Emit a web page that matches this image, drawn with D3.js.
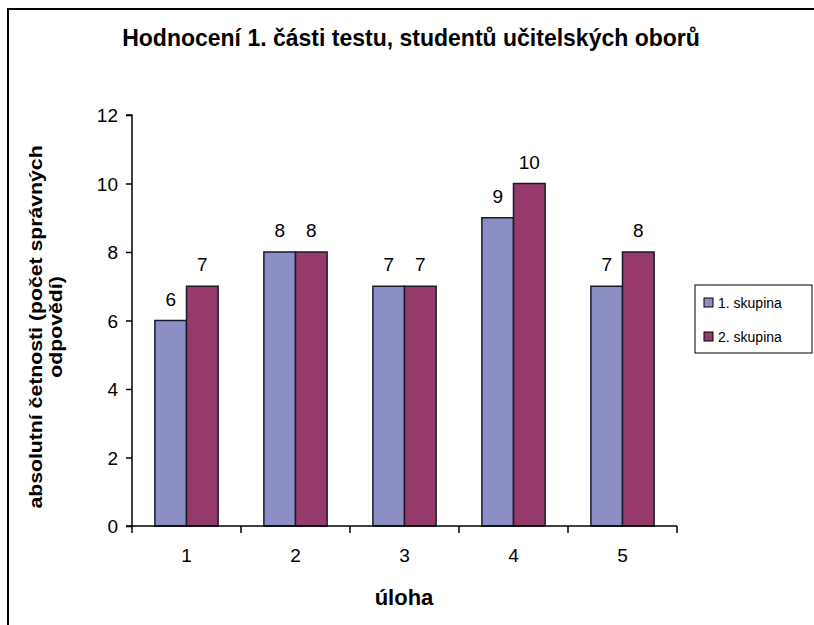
<!DOCTYPE html>
<html>
<head>
<meta charset="utf-8">
<script src="https://cdn.jsdelivr.net/npm/d3@7"></script>
<style>
  body { margin: 0; background: #fff; }
  text { font-family: "Liberation Sans", Arial, sans-serif; fill: #000; }
</style>
</head>
<body>
<div id="chart"></div>
<script>
// data
var categories = ["1", "2", "3", "4", "5"];
var seriesNames = ["1. skupina", "2. skupina"];
var group1 = [6, 8, 7, 9, 7];
var group2 = [7, 8, 7, 10, 8];
var yTicks = [0, 2, 4, 6, 8, 10, 12];

var colors = ["#8c8fc6", "#953a6a"];

var width = 814,
    height = 625;

var margin = {left: 132, right: 137, top: 115, bottom: 99};

var svg = d3.select("#chart")
    .append("svg")
    .attr("width", width)
    .attr("height", height);

// outer chart border (runs off right and bottom)
svg.append("rect")
    .attr("x", 8)
    .attr("y", 9)
    .attr("width", 830)
    .attr("height", 640)
    .style("fill", "none")
    .style("stroke", "#000")
    .style("stroke-width", 2);

var x = d3.scaleBand()
    .domain(categories)
    .range([margin.left, width - margin.right])
    .paddingInner(0.42)
    .paddingOuter(0.21);

var xSub = d3.scaleBand()
    .domain([0, 1])
    .range([0, x.bandwidth()]);

var y = d3.scaleLinear()
    .domain([0, 12])
    .range([height - margin.bottom, margin.top]);

var rows = categories.map(function(c, i) {
    return {cat: c, vals: [group1[i], group2[i]]};
});

// bars
var groups = svg.append("g").selectAll("g")
    .data(rows)
    .enter()
    .append("g")
    .attr("transform", function(d){ return "translate(" + x(d.cat) + ",0)"; });

groups.selectAll("rect")
    .data(function(d){ return d.vals.map(function(v, j){ return {v: v, j: j}; }); })
    .enter()
    .append("rect")
    .attr("x", function(d){ return xSub(d.j); })
    .attr("y", function(d){ return y(d.v); })
    .attr("width", xSub.bandwidth())
    .attr("height", function(d){ return y(0) - y(d.v); })
    .style("fill", function(d){ return colors[d.j]; })
    .style("stroke", "#1a1a2a")
    .style("stroke-width", 1.5);

groups.selectAll("text")
    .data(function(d){ return d.vals.map(function(v, j){ return {v: v, j: j}; }); })
    .enter()
    .append("text")
    .attr("x", function(d){ return xSub(d.j) + xSub.bandwidth() / 2; })
    .attr("y", function(d){ return y(d.v) - 15; })
    .attr("text-anchor", "middle")
    .style("font-size", "19px")
    .text(function(d){ return d.v; });

// axes
var yAxis = svg.append("g")
    .attr("transform", "translate(" + margin.left + ",0)")
    .call(d3.axisLeft(y).tickValues(yTicks).tickSize(6).tickPadding(8));

var xAxis = svg.append("g")
    .attr("transform", "translate(0," + y(0) + ")")
    .call(d3.axisBottom(x).tickSize(0).tickPadding(23));

[yAxis, xAxis].forEach(function(a){
    a.select(".domain").style("stroke", "#000").style("stroke-width", 1.5);
    a.selectAll("text").style("font-size", "19px").style("font-family", "Liberation Sans, Arial, sans-serif");
    a.selectAll(".tick line").style("stroke", "#000").style("stroke-width", 1.5);
});
yAxis.selectAll(".tick text").attr("dy", "0.36em");
yAxis.select(".domain").attr("d", "M-6," + y(12) + "H0V" + y(0) + "H-6");
xAxis.select(".domain").attr("d", "M" + margin.left + ",0H" + (width - margin.right));

// x category boundary ticks
var bounds = d3.range(categories.length + 1).map(function(i){
    return margin.left + i * x.step();
});
xAxis.selectAll(".bound")
    .data(bounds)
    .enter()
    .append("line")
    .attr("class", "bound")
    .attr("x1", function(d){ return d; })
    .attr("x2", function(d){ return d; })
    .attr("y1", 0)
    .attr("y2", 7)
    .style("stroke", "#000")
    .style("stroke-width", 1.5);

// title
svg.append("text")
    .attr("x", 411)
    .attr("y", 46)
    .attr("text-anchor", "middle")
    .style("font-size", "23px")
    .style("font-weight", "bold")
    .text("Hodnocení 1. části testu, studentů učitelských oborů");

// x label
svg.append("text")
    .attr("x", 404)
    .attr("y", 605)
    .attr("text-anchor", "middle")
    .style("font-size", "22px")
    .style("font-weight", "bold")
    .text("úloha");

// y label, two lines (stretched along its length like the source)
var yl = svg.append("text")
    .attr("transform", "translate(42,327) rotate(-90) scale(1.18,1)")
    .attr("text-anchor", "middle")
    .style("font-size", "18px")
    .style("font-weight", "bold");
yl.append("tspan").attr("x", 0).attr("y", 0).text("absolutní četnosti (počet správných");
yl.append("tspan").attr("x", 0).attr("y", 20).text("odpovědí)");

// legend
var legend = svg.append("g")
    .attr("transform", "translate(695,285)");
legend.append("rect")
    .attr("width", 117)
    .attr("height", 68)
    .style("fill", "#fff")
    .style("stroke", "#000")
    .style("stroke-width", 1);
var items = legend.selectAll(".item")
    .data(seriesNames)
    .enter()
    .append("g")
    .attr("class", "item")
    .attr("transform", function(d, i){ return "translate(9," + (13 + i * 34) + ")"; });
items.append("rect")
    .attr("width", 9)
    .attr("height", 9)
    .style("fill", function(d, i){ return colors[i]; })
    .style("stroke", "#000")
    .style("stroke-width", 1);
items.append("text")
    .attr("x", 14)
    .attr("y", 10)
    .style("font-size", "14px")
    .text(function(d){ return d; });
</script>
</body>
</html>
